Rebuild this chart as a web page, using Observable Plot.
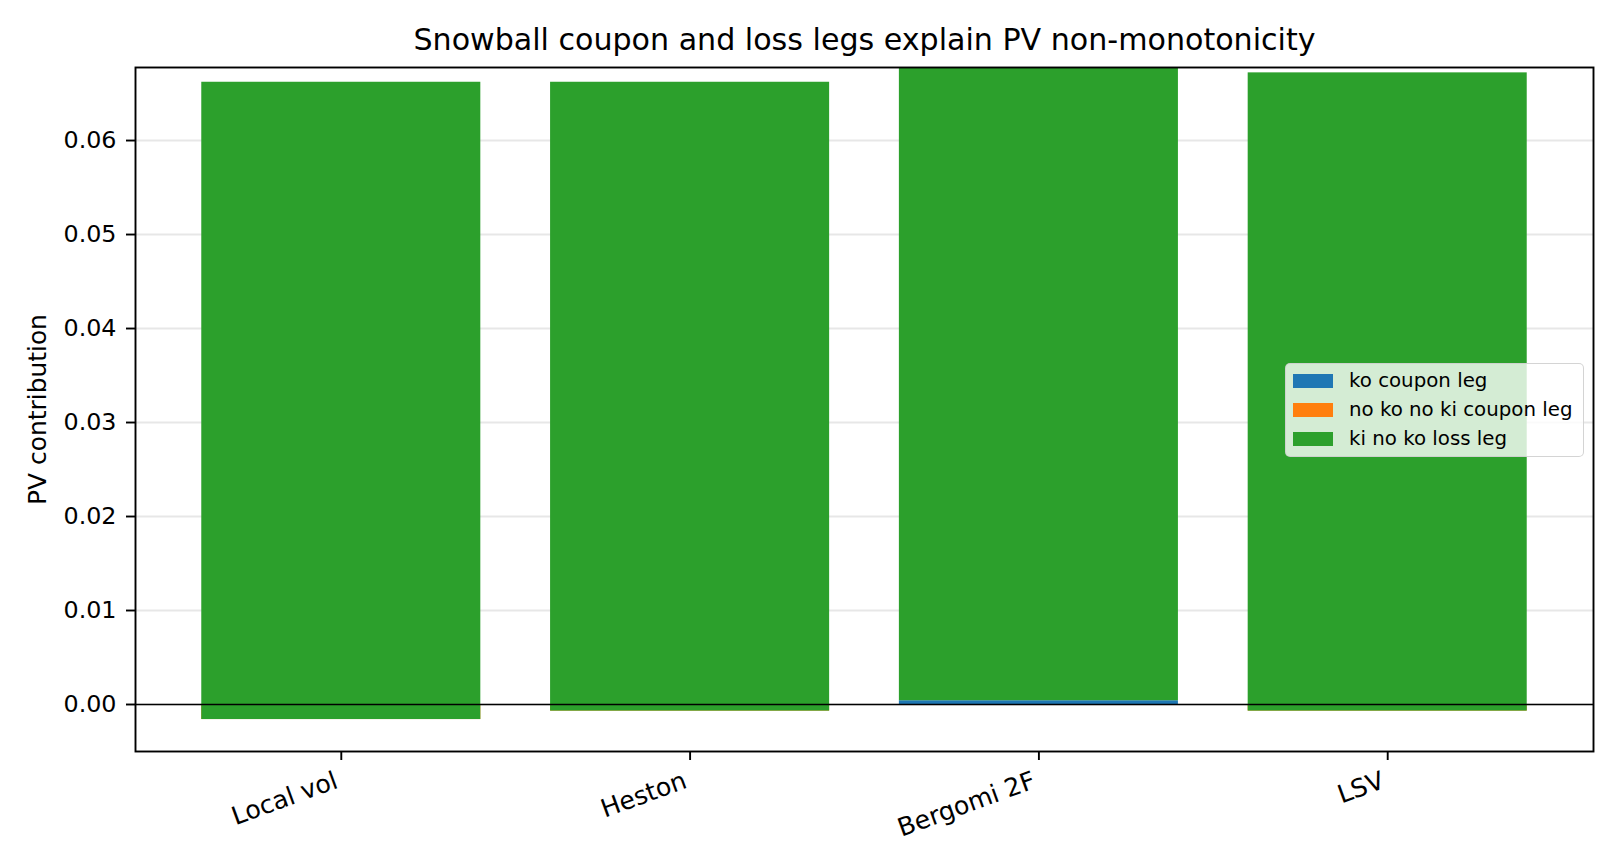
<!DOCTYPE html>
<html>
<head>
<meta charset="utf-8">
<script src="https://cdn.jsdelivr.net/npm/d3@7"></script>
<script src="https://cdn.jsdelivr.net/npm/@observablehq/plot@0.6"></script>
<style>
  html, body { margin: 0; padding: 0; background: #fff; }
  #wrap { position: relative; width: 1620px; height: 864px; font-family: "DejaVu Sans", sans-serif; }
  #legend { position: absolute; left: 1285px; top: 363px; width: 299px; height: 94px; box-sizing: border-box;
    background: rgba(255,255,255,0.8); border: 1.5px solid rgba(204,204,204,0.85); border-radius: 5px; }
  .row { position: absolute; left: 7px; height: 29px; display: flex; align-items: center; font-size: 19.8px; color: #000; white-space: nowrap; }
  .sw { width: 40px; height: 14px; margin-right: 16px; }
</style>
</head>
<body>
<div id="wrap"><div id="chart"></div><div id="legend"></div></div>
<script>
const models = ["Local vol", "Heston", "Bergomi 2F", "LSV"];
const seriesNames = ["ko coupon leg", "no ko no ki coupon leg", "ki no ko loss leg"];
const seriesColors = ["#1f77b4", "#ff7f0e", "#2ca02c"];
const koCoupon = [0.0000, 0.0000, 0.0004, 0.0000];
const noKoNoKiCoupon = [-0.0016, -0.0007, 0.0000, -0.0007];
const kiNoKoLoss = [0.0678, 0.0669, 0.0686, 0.0679];
const yTicks = [0.00, 0.01, 0.02, 0.03, 0.04, 0.05, 0.06];
const title = "Snowball coupon and loss legs explain PV non-monotonicity";
const yLabel = "PV contribution";

// matplotlib-style stacking: each series starts at the running sum of previous ones
const seriesValues = [koCoupon, noKoNoKiCoupon, kiNoKoLoss];
const rows = [];
seriesNames.forEach((name, s) => {
  models.forEach((m, i) => {
    let bottom = 0;
    for (let k = 0; k < s; k++) bottom += seriesValues[k][i];
    rows.push({model: m, series: name, y1: bottom, y2: bottom + seriesValues[s][i]});
  });
});

const chart = Plot.plot({
  width: 1620,
  height: 864,
  marginLeft: 135,
  marginRight: 27,
  marginTop: 67,
  marginBottom: 113,
  style: {fontFamily: "DejaVu Sans, sans-serif", color: "#000", background: "#fff"},
  x: {type: "band", domain: models, paddingInner: 0.2, paddingOuter: 0.19, round: false, label: null},
  y: {domain: [-0.0050, 0.06777], label: null},
  color: {domain: seriesNames, range: seriesColors},
  marks: [
    Plot.gridY(yTicks, {stroke: "#b0b0b0", strokeOpacity: 0.3, strokeWidth: 1.9}),
    Plot.barY(rows, {x: "model", y1: "y1", y2: "y2", fill: "series", clip: true}),
    Plot.ruleY([0], {stroke: "#000", strokeWidth: 1.6}),
    Plot.frame({stroke: "#000", strokeWidth: 1.9}),
    Plot.axisY({ticks: yTicks, tickFormat: d3.format(".2f"), tickSize: 9, tickPadding: 10, fontSize: 23.8, strokeWidth: 1.9, label: null}),
    Plot.axisY({ticks: [], tickSize: 0, label: yLabel, labelAnchor: "center", labelArrow: "none", labelOffset: 107, fontSize: 24.9}),
    Plot.axisX({tickSize: 9, strokeWidth: 1.9, fill: "none", label: null}),
    Plot.axisX({tickSize: 0, tickPadding: 19, tickRotate: -20, fontSize: 25.2, textAnchor: "end", lineAnchor: "top", dx: -8, label: null}),
    Plot.text([title], {frameAnchor: "top", dy: -18, fontSize: 30.1, lineAnchor: "bottom", fill: "#000"})
  ]
});
document.getElementById("chart").appendChild(chart);

const legend = document.getElementById("legend");
seriesNames.forEach((name, i) => {
  const row = document.createElement("div");
  row.className = "row";
  row.style.top = (2 + i * 29) + "px";
  const sw = document.createElement("div");
  sw.className = "sw";
  sw.style.background = seriesColors[i];
  row.appendChild(sw);
  const t = document.createElement("span");
  t.textContent = name;
  row.appendChild(t);
  legend.appendChild(row);
});
</script>
</body>
</html>
